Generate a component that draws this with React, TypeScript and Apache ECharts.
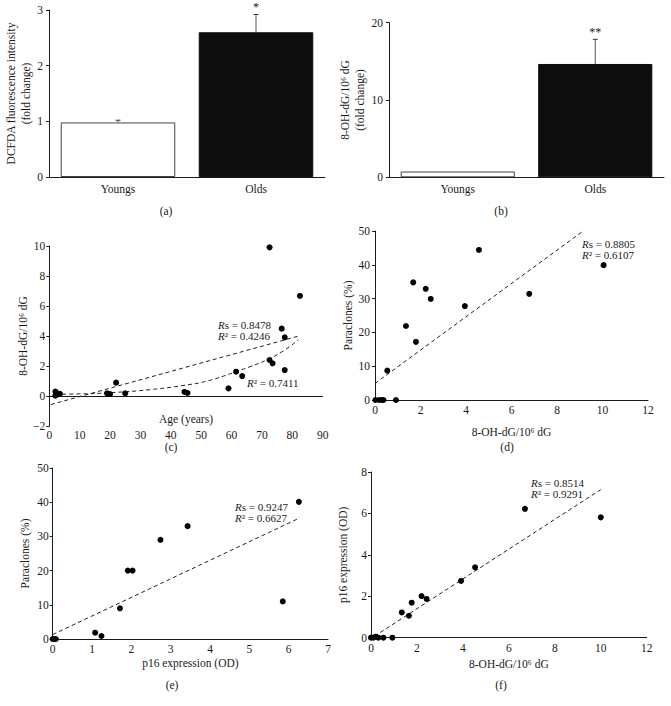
import React, { useEffect, useRef } from "react";
import * as echarts from "echarts";

const FONT = "Liberation Serif";
const INK = "#1a1a1a";
const FS = 11.5;

// (a) DCFDA
const groups = ["Youngs", "Olds"];
const aMean = [0.98, 2.6];
const aUpper = [1.02, 2.92];
const aMarks = ["", "*"];
// (b) 8-OH-dG
const bMean = [0.75, 14.66];
const bUpper = [0.75, 17.85];
const bMarks = ["", "**"];

// (c) age vs 8-OH-dG
const cAge = [2, 2, 2.5, 3, 3.5, 19, 20, 22, 25, 44.5, 45.5, 59, 61.5, 63.5, 72.5, 72.5, 73.5, 76.5, 77.5, 77.5, 82.5];
const cVal = [0.3, 0.02, 0.2, 0.12, 0.15, 0.18, 0.13, 0.89, 0.18, 0.27, 0.2, 0.51, 1.62, 1.33, 9.91, 2.4, 2.18, 4.49, 3.91, 1.73, 6.67];
const cLinX = [0.5, 82.5];
const cLinY = [-0.57, 4.02];
const cCurveX = [2, 10, 20, 33, 44, 52, 60.5, 66, 71.5, 77, 82];
const cCurveY = [0.12, 0.14, 0.22, 0.42, 0.7, 1.0, 1.55, 1.95, 2.4, 3.0, 3.75];

// (d) 8-OH-dG vs paraclones
const dX = [0.02, 0.18, 0.3, 0.37, 0.92, 0.54, 1.36, 1.68, 1.8, 2.23, 2.45, 3.95, 4.57, 6.78, 10.05];
const dY = [0, 0, 0, 0, 0, 8.7, 21.9, 34.8, 17.2, 32.9, 29.9, 27.8, 44.4, 31.4, 39.9];
const dLinX = [0, 9.15];
const dLinY = [4.9, 50];

// (e) p16 vs paraclones
const eX = [0, 0.04, 0.08, 1.08, 1.24, 1.71, 1.91, 2.03, 2.74, 3.43, 5.85, 6.26];
const eY = [0, 0, 0, 1.85, 0.88, 8.97, 20, 20, 29, 33, 11, 40.1];
const eLinX = [0, 6.28];
const eLinY = [1.3, 35.4];

// (f) 8-OH-dG vs p16
const fX = [0, 0.1, 0.2, 0.32, 0.54, 0.93, 1.34, 1.65, 1.77, 2.2, 2.42, 3.92, 4.53, 6.7, 10.0];
const fY = [0, 0, 0.05, 0, 0, 0, 1.22, 1.06, 1.69, 2.01, 1.87, 2.74, 3.4, 6.22, 5.81];
const fLinX = [0.15, 10];
const fLinY = [0.07, 7.15];

// annotation texts
const statsC = ["s = 0.8478", "\u00b2 = 0.4246"];
const statsC2 = "\u00b2 = 0.7411";
const statsD = ["s = 0.8805", "\u00b2 = 0.6107"];
const statsE = ["s = 0.9247", "\u00b2 = 0.6627"];
const statsF = ["s = 0.8514", "\u00b2 = 0.9291"];

const zip = (xs: number[], ys: number[]) => xs.map((x, i) => [x, ys[i]]);

export default function App() {
  const ref = useRef<HTMLDivElement>(null);
  useEffect(() => {
    if (!ref.current) return;
    const chart = echarts.init(ref.current, null, { renderer: "svg" });

    const lbl = (margin: number, extra: any = {}) => ({
      color: INK, fontFamily: FONT, fontSize: FS, margin, ...extra,
    });
    const line = { lineStyle: { color: INK, width: 1 } };
    const nameStyle = { color: INK, fontFamily: FONT, fontSize: FS };
    const ytick = { show: true, length: 3, lineStyle: { color: INK } };

    const grids = [
      { left: 49, top: 10, width: 276, height: 167 },
      { left: 389, top: 22.7, width: 275, height: 154.6 },
      { left: 49.3, top: 246, width: 273.4, height: 180 },
      { left: 375, top: 231, width: 273, height: 169 },
      { left: 52.7, top: 468, width: 275.3, height: 171 },
      { left: 371, top: 472, width: 275.7, height: 165.7 },
    ];

    const xAxis: any[] = [
      { gridIndex: 0, type: "category", data: groups, axisLine: line, axisTick: { length: 4, lineStyle: { color: INK } }, axisLabel: lbl(6) },
      { gridIndex: 1, type: "category", data: groups, axisLine: line, axisTick: { length: 4, lineStyle: { color: INK } }, axisLabel: lbl(6) },
      { gridIndex: 2, type: "value", min: 0, max: 90, interval: 10, axisLine: { ...line, onZero: true }, axisTick: { show: false }, splitLine: { show: false }, axisLabel: lbl(3) },
      { gridIndex: 3, type: "value", min: 0, max: 12, interval: 2, axisLine: line, axisTick: { show: false }, splitLine: { show: false }, axisLabel: lbl(4), name: "8-OH-dG/10\u2076 dG", nameLocation: "middle", nameGap: 26, nameTextStyle: nameStyle },
      { gridIndex: 4, type: "value", min: 0, max: 7, interval: 1, axisLine: line, axisTick: { show: false }, splitLine: { show: false }, axisLabel: lbl(4), name: "p16 expression (OD)", nameLocation: "middle", nameGap: 18, nameTextStyle: nameStyle },
      { gridIndex: 5, type: "value", min: 0, max: 12, interval: 2, axisLine: line, axisTick: { show: false }, splitLine: { show: false }, axisLabel: lbl(4), name: "8-OH-dG/10\u2076 dG", nameLocation: "middle", nameGap: 20, nameTextStyle: nameStyle },
    ];

    const yAxis: any[] = [
      { gridIndex: 0, type: "value", min: 0, max: 3, interval: 1, axisLine: { show: true, ...line }, axisTick: ytick, splitLine: { show: false }, axisLabel: lbl(6), name: "DCFDA fluorescence intensity\n(fold change)", nameLocation: "middle", nameGap: 14, nameTextStyle: { ...nameStyle, lineHeight: 15 } },
      { gridIndex: 1, type: "value", min: 0, max: 20, interval: 10, axisLine: { show: true, ...line }, axisTick: ytick, splitLine: { show: false }, axisLabel: lbl(6), name: "8-OH-dG/10\u2076 dG\n(fold change)", nameLocation: "middle", nameGap: 19, nameTextStyle: { ...nameStyle, lineHeight: 15 } },
      { gridIndex: 2, type: "value", min: -2, max: 10, interval: 2, axisLine: { show: true, ...line }, axisTick: ytick, splitLine: { show: false }, axisLabel: lbl(4, { formatter: (v: number) => (v < 0 ? "\u2212" + Math.abs(v) : String(v)) }), name: "8-OH-dG/10\u2076 dG", nameLocation: "middle", nameGap: 18, nameTextStyle: nameStyle },
      { gridIndex: 3, type: "value", min: 0, max: 50, interval: 10, axisLine: { show: true, ...line }, axisTick: ytick, splitLine: { show: false }, axisLabel: lbl(5), name: "Paraclones (%)", nameLocation: "middle", nameGap: 21, nameTextStyle: nameStyle },
      { gridIndex: 4, type: "value", min: 0, max: 50, interval: 10, axisLine: { show: true, ...line }, axisTick: ytick, splitLine: { show: false }, axisLabel: lbl(4), name: "Paraclones (%)", nameLocation: "middle", nameGap: 22, nameTextStyle: nameStyle },
      { gridIndex: 5, type: "value", min: 0, max: 8, interval: 2, axisLine: { show: true, ...line }, axisTick: ytick, splitLine: { show: false }, axisLabel: lbl(4), name: "p16 expression (OD)", nameLocation: "middle", nameGap: 22, nameTextStyle: nameStyle },
    ];

    const errSeries = (idx: number, mean: number[], upper: number[], marks: string[]) => ({
      type: "custom",
      xAxisIndex: idx,
      yAxisIndex: idx,
      z: 5,
      itemStyle: { color: INK },
      data: mean.map((m, i) => [i, m, upper[i]]),
      renderItem: (params: any, api: any) => {
        const i = api.value(0);
        const p0 = api.coord([i, api.value(1)]);
        const p1 = api.coord([i, api.value(2)]);
        const mark = marks[params.dataIndex];
        const children: any[] = [];
        if (Math.abs(p0[1] - p1[1]) > 0.5) {
          children.push({ type: "line", shape: { x1: p0[0], y1: p0[1], x2: p1[0], y2: p1[1] }, style: { stroke: "#555", lineWidth: 1 } });
          children.push({ type: "line", shape: { x1: p1[0] - 2.5, y1: p1[1], x2: p1[0] + 2.5, y2: p1[1] }, style: { stroke: "#333", lineWidth: 1 } });
        }
        if (mark) {
          children.push({ type: "text", x: p1[0], y: p1[1] - 1, style: { text: mark, fill: INK, fontFamily: FONT, fontSize: 12, align: "center", verticalAlign: "bottom" } });
        }
        return { type: "group", children };
      },
    });

    const barSeries = (idx: number, mean: number[]) => ({
      type: "bar",
      xAxisIndex: idx,
      yAxisIndex: idx,
      barCategoryGap: "17%",
      data: mean.map((v, i) => ({
        value: v,
        itemStyle: i === 0 ? { color: "#ffffff", borderColor: "#444", borderWidth: 1 } : { color: "#0d0d0d", borderColor: "#0d0d0d", borderWidth: 1 },
      })),
    });

    const scatter = (idx: number, xs: number[], ys: number[]) => ({
      type: "scatter", xAxisIndex: idx, yAxisIndex: idx, symbolSize: 6,
      itemStyle: { color: "#000", opacity: 1 }, data: zip(xs, ys), z: 4,
    });
    const dashed = (idx: number, xs: number[], ys: number[], smooth = false) => ({
      type: "line", xAxisIndex: idx, yAxisIndex: idx, data: zip(xs, ys), smooth, showSymbol: false, symbol: "none",
      lineStyle: { color: "#222", width: 1, type: [4, 3] }, z: 3,
    });

    const NS = 11;
    const rich = {
      i: { fontStyle: "italic", fontFamily: FONT, fontSize: NS, fill: INK, lineHeight: 11 },
      n: { fontFamily: FONT, fontSize: NS, fill: INK, lineHeight: 11 },
    };
    const note = (x: number, y: number, lines: string[]) => ({
      type: "text", x, y,
      style: {
        text: lines.map((l) => `{i|R}{n|${l}}`).join("\n"),
        rich, fontFamily: FONT, fontSize: NS, fill: INK, lineHeight: 11, verticalAlign: "top",
      },
    });
    const cap = (x: number, y: number, t: string) => ({
      type: "text", x, y,
      style: { text: t, fontFamily: FONT, fontSize: FS, fill: INK, align: "center", verticalAlign: "middle" },
    });

    chart.setOption({
      animation: false,
      backgroundColor: "#ffffff",
      grid: grids,
      xAxis,
      yAxis,
      series: [
        barSeries(0, aMean), errSeries(0, aMean, aUpper, aMarks),
        barSeries(1, bMean), errSeries(1, bMean, bUpper, bMarks),
        dashed(2, cLinX, cLinY), dashed(2, cCurveX, cCurveY, true), scatter(2, cAge, cVal),
        dashed(3, dLinX, dLinY), scatter(3, dX, dY),
        dashed(4, eLinX, eLinY), scatter(4, eX, eY),
        dashed(5, fLinX, fLinY), scatter(5, fX, fY),
      ],
      graphic: [
        cap(166, 211, "(a)"), cap(501, 211, "(b)"), cap(171, 447, "(c)"),
        cap(507, 447, "(d)"), cap(172, 685, "(e)"), cap(501, 685, "(f)"),
        cap(186, 419, "Age (years)"),
        note(218, 319.5, statsC),
        note(247, 377.5, [statsC2]),
        note(582, 238, statsD),
        note(235, 501.5, statsE),
        note(531, 477, statsF),
      ],
    });
    return () => chart.dispose();
  }, []);
  return <div ref={ref} style={{ position: "fixed", left: 0, top: 0, width: 671, height: 706, background: "#fff" }} />;
}
